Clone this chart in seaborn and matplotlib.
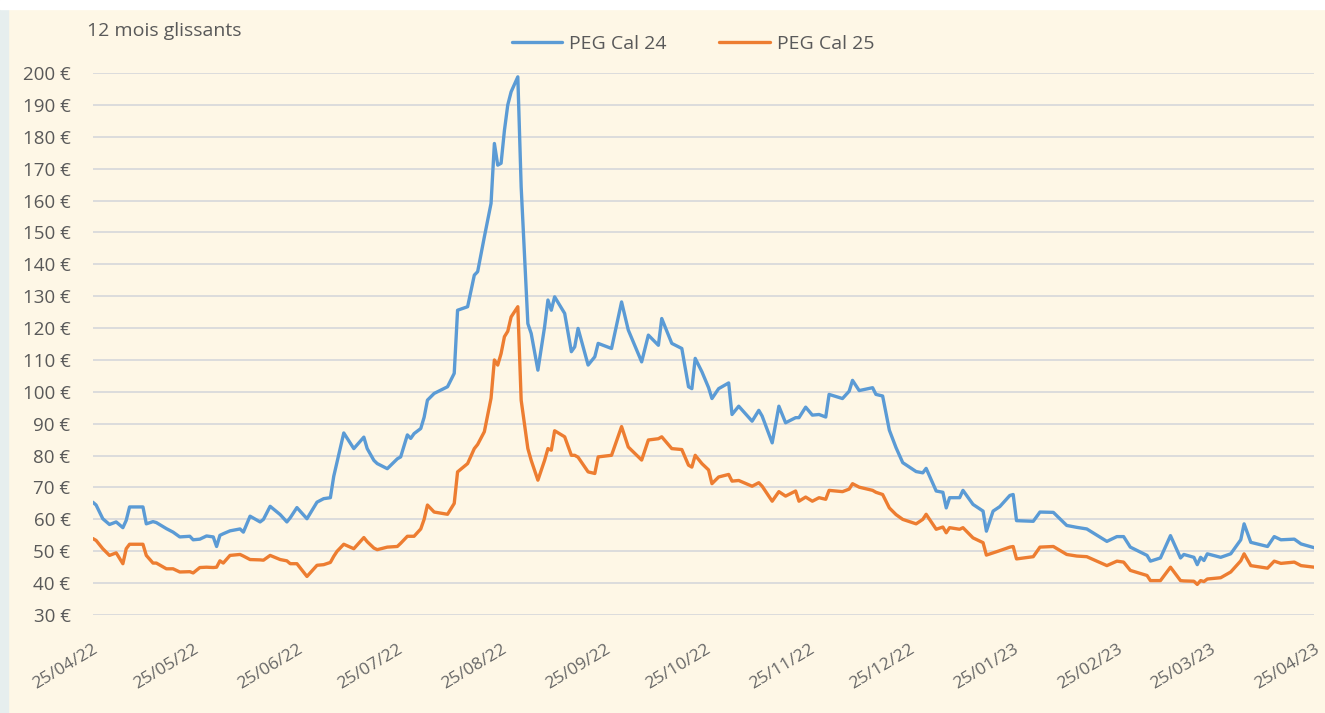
import numpy as np
import pandas as pd
import matplotlib
matplotlib.use("Agg")
import matplotlib.pyplot as plt
import matplotlib.dates as mdates
from matplotlib.ticker import FuncFormatter, MultipleLocator
import seaborn as sns

# dates (x axis), shared by both series
dates = [
    "2022-04-25", "2022-04-26", "2022-04-28", "2022-04-30", "2022-05-02", "2022-05-04",
    "2022-05-05", "2022-05-06", "2022-05-10", "2022-05-11", "2022-05-13", "2022-05-14",
    "2022-05-17", "2022-05-19", "2022-05-21", "2022-05-24", "2022-05-25", "2022-05-27",
    "2022-05-29", "2022-05-31", "2022-06-01", "2022-06-02", "2022-06-03", "2022-06-05",
    "2022-06-08", "2022-06-09", "2022-06-11", "2022-06-14", "2022-06-15", "2022-06-17",
    "2022-06-20", "2022-06-22", "2022-06-23", "2022-06-25", "2022-06-28", "2022-07-01",
    "2022-07-03", "2022-07-05", "2022-07-06", "2022-07-07", "2022-07-09", "2022-07-12",
    "2022-07-15", "2022-07-16", "2022-07-18", "2022-07-19", "2022-07-22", "2022-07-25",
    "2022-07-26", "2022-07-28", "2022-07-29", "2022-07-30", "2022-08-01", "2022-08-02",
    "2022-08-03", "2022-08-05", "2022-08-09", "2022-08-11", "2022-08-12", "2022-08-15",
    "2022-08-17", "2022-08-18", "2022-08-20", "2022-08-22", "2022-08-23", "2022-08-24",
    "2022-08-25", "2022-08-26", "2022-08-27", "2022-08-28", "2022-08-30", "2022-08-31",
    "2022-09-02", "2022-09-03", "2022-09-05", "2022-09-07", "2022-09-08", "2022-09-09",
    "2022-09-10", "2022-09-13", "2022-09-15", "2022-09-16", "2022-09-17", "2022-09-20",
    "2022-09-22", "2022-09-23", "2022-09-27", "2022-09-30", "2022-10-02", "2022-10-06",
    "2022-10-08", "2022-10-11", "2022-10-12", "2022-10-15", "2022-10-18", "2022-10-20",
    "2022-10-21", "2022-10-22", "2022-10-24", "2022-10-26", "2022-10-27", "2022-10-29",
    "2022-11-01", "2022-11-02", "2022-11-04", "2022-11-08", "2022-11-10", "2022-11-11",
    "2022-11-14", "2022-11-16", "2022-11-18", "2022-11-21", "2022-11-22", "2022-11-24",
    "2022-11-26", "2022-11-28", "2022-11-30", "2022-12-01", "2022-12-05", "2022-12-07",
    "2022-12-08", "2022-12-10", "2022-12-14", "2022-12-15", "2022-12-17", "2022-12-19",
    "2022-12-21", "2022-12-23", "2022-12-27", "2022-12-29", "2022-12-30", "2023-01-02",
    "2023-01-04", "2023-01-05", "2023-01-06", "2023-01-09", "2023-01-10", "2023-01-13",
    "2023-01-16", "2023-01-17", "2023-01-19", "2023-01-21", "2023-01-24", "2023-01-25",
    "2023-01-26", "2023-01-31", "2023-02-02", "2023-02-06", "2023-02-10", "2023-02-13",
    "2023-02-16", "2023-02-22", "2023-02-25", "2023-02-27", "2023-03-01", "2023-03-06",
    "2023-03-07", "2023-03-10", "2023-03-13", "2023-03-16", "2023-03-17", "2023-03-20",
    "2023-03-21", "2023-03-22", "2023-03-23", "2023-03-24", "2023-03-28", "2023-03-31",
    "2023-04-03", "2023-04-04", "2023-04-06", "2023-04-11", "2023-04-13", "2023-04-15",
    "2023-04-19", "2023-04-21", "2023-04-25",
]

cal24 = [
    65.4, 64.5, 60.2, 58.4, 59.2, 57.4, 59.7, 63.9, 63.9, 58.6, 59.3, 59.0,
    57.1, 56.0, 54.5, 54.7, 53.6, 53.8, 54.8, 54.5, 51.5, 55.0, 55.5, 56.4,
    57.0, 56.0, 61.0, 59.2, 60.0, 64.1, 61.5, 59.2, 60.5, 63.7, 60.2, 65.4,
    66.5, 66.8, 73.5, 78.0, 87.1, 82.2, 85.8, 82.2, 78.5, 77.5, 75.9, 79.0,
    79.6, 86.5, 85.4, 86.9, 88.5, 92.0, 97.4, 99.5, 101.6, 105.8, 125.6, 126.7,
    136.6, 137.7, 148.6, 159.1, 177.9, 171.1, 171.7, 182.0, 190.0, 194.1, 198.8, 164.3,
    121.4, 118.3, 106.8, 120.4, 128.8, 125.6, 129.8, 124.6, 112.6, 114.1, 119.9, 108.4,
    111.0, 115.2, 113.6, 128.2, 119.4, 109.4, 117.8, 114.6, 123.0, 115.2, 113.6, 101.6,
    101.0, 110.5, 106.3, 101.3, 97.9, 101.0, 102.8, 92.9, 95.5, 90.8, 94.2, 92.4,
    84.0, 95.5, 90.3, 91.9, 91.9, 95.2, 92.7, 92.9, 92.1, 99.2, 97.9, 100.2,
    103.6, 100.4, 101.3, 99.2, 98.7, 88.0, 82.5, 77.8, 75.0, 74.6, 76.0, 68.9,
    68.5, 63.6, 66.8, 66.8, 69.1, 64.7, 62.6, 56.3, 62.6, 64.0, 67.5, 67.8,
    59.6, 59.4, 62.3, 62.2, 58.1, 57.5, 57.0, 53.1, 54.6, 54.6, 51.3, 48.7,
    46.9, 47.9, 54.9, 47.9, 49.0, 48.1, 45.8, 48.1, 47.1, 49.2, 48.1, 49.2,
    53.6, 58.6, 52.8, 51.5, 54.6, 53.6, 53.8, 52.3, 51.1,
]

cal25 = [
    54.0, 53.4, 50.8, 48.7, 49.5, 46.1, 50.8, 52.2, 52.2, 48.7, 46.3, 46.3,
    44.5, 44.5, 43.5, 43.6, 43.2, 44.9, 45.0, 44.9, 45.0, 47.0, 46.3, 48.7,
    49.0, 48.5, 47.4, 47.3, 47.2, 48.7, 47.4, 47.0, 46.1, 46.1, 42.1, 45.6,
    45.8, 46.5, 48.4, 50.0, 52.2, 50.8, 54.3, 53.0, 51.0, 50.5, 51.3, 51.5,
    52.5, 54.7, 54.7, 54.7, 57.0, 60.0, 64.5, 62.3, 61.6, 65.0, 74.9, 77.5,
    82.2, 83.5, 87.5, 98.0, 110.0, 108.4, 112.0, 117.3, 119.0, 123.5, 126.7, 97.4,
    82.2, 78.5, 72.3, 78.5, 82.2, 81.7, 87.8, 85.9, 80.1, 80.1, 79.5, 74.9,
    74.4, 79.6, 80.1, 89.1, 82.7, 78.6, 84.9, 85.3, 85.9, 82.2, 81.9, 77.0,
    76.4, 80.1, 77.5, 75.5, 71.2, 73.3, 74.1, 72.0, 72.2, 70.4, 71.5, 70.4,
    65.7, 68.7, 67.3, 68.9, 65.7, 67.0, 65.7, 66.8, 66.3, 69.1, 68.7, 69.5,
    71.2, 70.1, 69.1, 68.5, 67.8, 63.6, 61.5, 60.0, 58.6, 60.0, 61.6, 56.9,
    57.6, 55.8, 57.4, 56.9, 57.4, 54.2, 52.7, 48.8, 49.5, 50.2, 51.3, 51.5,
    47.6, 48.3, 51.3, 51.5, 49.0, 48.5, 48.3, 45.5, 46.9, 46.6, 44.0, 42.4,
    40.8, 40.8, 45.0, 40.8, 40.7, 40.6, 39.6, 40.8, 40.5, 41.3, 41.7, 43.5,
    47.0, 49.2, 45.5, 44.7, 46.9, 46.2, 46.6, 45.5, 45.0,
]

series_names = ["PEG Cal 24", "PEG Cal 25"]
colors = ["#5B9BD5", "#ED7D31"]

df = pd.DataFrame({
    "date": pd.to_datetime(dates * 2),
    "price": cal24 + cal25,
    "serie": [series_names[0]] * len(cal24) + [series_names[1]] * len(cal25),
})

bg = "#FEF7E6"
txt = "#595959"
sns.set_theme(style="white")
plt.rcParams["font.family"] = ["Open Sans", "DejaVu Sans"]

fig = plt.figure(figsize=(13.25, 7.13), dpi=100, facecolor=bg)
ax = fig.add_axes([0.070, 0.1374, 0.922, 0.7602])
ax.set_facecolor(bg)

sns.lineplot(data=df, x="date", y="price", hue="serie", palette=colors,
             linewidth=2.4, ax=ax, legend=False)

ax.set_ylim(30, 200)
ax.set_xlim(pd.Timestamp("2022-04-25"), pd.Timestamp("2023-04-25"))
ax.yaxis.set_major_locator(MultipleLocator(10))
ax.yaxis.set_major_formatter(FuncFormatter(lambda v, p: f"{v:.0f} €"))
ax.grid(axis="y", color="#DCDCDC", linewidth=1.4)
ax.grid(axis="x", visible=False)
ax.set_axisbelow(True)
for s in ax.spines.values():
    s.set_visible(False)

ax.xaxis.set_major_locator(mdates.MonthLocator(bymonthday=25))
ax.xaxis.set_major_formatter(mdates.DateFormatter("%d/%m/%y"))
ax.tick_params(axis="y", labelsize=13.5, labelcolor=txt, length=0, pad=16)
ax.tick_params(axis="x", labelsize=12.5, labelcolor="#666666", length=0, pad=19)
for lab in ax.get_xticklabels():
    lab.set_rotation(31)
    lab.set_ha("right")
    lab.set_rotation_mode("anchor")
ax.set_xlabel("")
ax.set_ylabel("")

fig.text(0.066, 0.957, "12 mois glissants", fontsize=14, color=txt,
         va="center", ha="left")

handles = [plt.Line2D([], [], color=c, linewidth=2.4) for c in colors]
fig.legend(handles, series_names, loc="center", bbox_to_anchor=(0.523, 0.938),
           ncol=2, frameon=False, fontsize=14, labelcolor=txt,
           handlelength=2.6, handletextpad=0.35, columnspacing=2.7)

# screenshot border strips
fig.patches.append(plt.Rectangle((0, 0), 0.006, 1, transform=fig.transFigure,
                                 color="#E6EEEE", zorder=-1))
fig.patches.append(plt.Rectangle((0, 0.988), 1, 0.012, transform=fig.transFigure,
                                 color="white", zorder=-1))

fig.savefig("out.png", dpi=100, facecolor=bg)
